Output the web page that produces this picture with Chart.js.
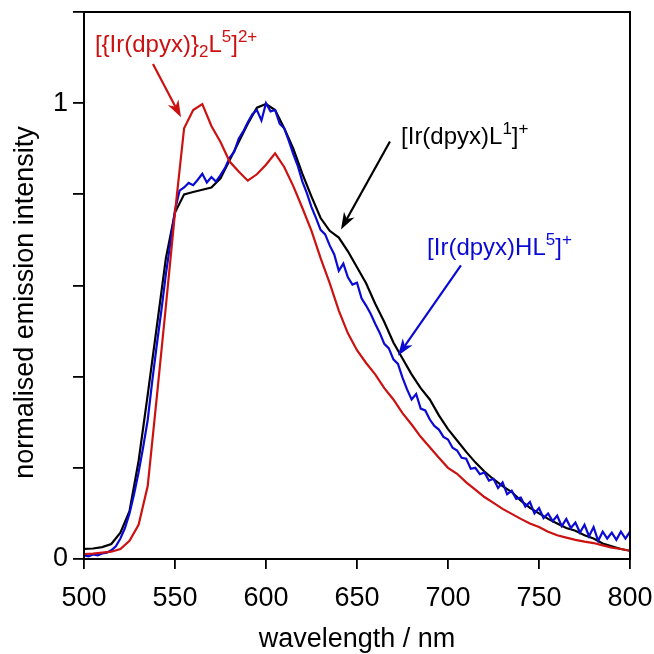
<!DOCTYPE html>
<html>
<head>
<meta charset="utf-8">
<script src="https://cdn.jsdelivr.net/npm/chart.js@4/dist/chart.umd.min.js"></script>
<style>
  html, body { margin: 0; padding: 0; background: #fff; }
  #wrap { width: 654px; height: 654px; }
</style>
</head>
<body>
<div id="wrap"><canvas id="emission"></canvas></div>
<script>
// wavelength grid (nm) for the smooth traces
const wl5 = [
  500, 505, 510, 515, 520, 525, 530, 535, 540, 545,
  550, 555, 560, 565, 570, 575, 580, 585, 590, 595,
  600, 605, 610, 615, 620, 625, 630, 635, 640, 645,
  650, 655, 660, 665, 670, 675, 680, 685, 690, 695,
  700, 705, 710, 715, 720, 725, 730, 735, 740, 745,
  750, 755, 760, 765, 770, 775, 780, 785, 790, 795,
  800
];

// [Ir(dpyx)L1]+
const black = [
  0.022, 0.023, 0.026, 0.033, 0.058, 0.105, 0.215, 0.360, 0.510, 0.660,
  0.760, 0.800, 0.805, 0.810, 0.815, 0.835, 0.875, 0.915, 0.955, 0.990,
  0.998, 0.985, 0.945, 0.900, 0.845, 0.795, 0.748, 0.720, 0.705, 0.675,
  0.640, 0.605, 0.560, 0.520, 0.475, 0.440, 0.405, 0.375, 0.350, 0.315,
  0.285, 0.260, 0.235, 0.212, 0.192, 0.175, 0.160, 0.147, 0.128, 0.112,
  0.100, 0.088, 0.078, 0.068, 0.062, 0.052, 0.045, 0.034, 0.028, 0.022,
  0.018
];

// [{Ir(dpyx)}2L5]2+
const red = [
  0.011, 0.012, 0.014, 0.016, 0.022, 0.040, 0.075, 0.160, 0.355, 0.555,
  0.760, 0.945, 0.985, 0.998, 0.950, 0.915, 0.872, 0.850, 0.830, 0.844,
  0.865, 0.890, 0.860, 0.818, 0.770, 0.720, 0.660, 0.605, 0.545, 0.495,
  0.458, 0.430, 0.405, 0.375, 0.350, 0.320, 0.295, 0.268, 0.245, 0.222,
  0.200, 0.187, 0.168, 0.152, 0.136, 0.123, 0.110, 0.099, 0.088, 0.078,
  0.070, 0.060, 0.052, 0.047, 0.042, 0.038, 0.035, 0.030, 0.025, 0.022,
  0.018
];

// finer grid for the noisy trace
const wl25 = [
  500, 502.5, 505, 507.5, 510, 512.5, 515, 517.5, 520, 522.5,
  525, 527.5, 530, 532.5, 535, 537.5, 540, 542.5, 545, 547.5,
  550, 552.5, 555, 557.5, 560, 562.5, 565, 567.5, 570, 572.5,
  575, 577.5, 580, 582.5, 585, 587.5, 590, 592.5, 595, 597.5,
  600, 602.5, 605, 607.5, 610, 612.5, 615, 617.5, 620, 622.5,
  625, 627.5, 630, 632.5, 635, 637.5, 640, 642.5, 645, 647.5,
  650, 652.5, 655, 657.5, 660, 662.5, 665, 667.5, 670, 672.5,
  675, 677.5, 680, 682.5, 685, 687.5, 690, 692.5, 695, 697.5,
  700, 702.5, 705, 707.5, 710, 712.5, 715, 717.5, 720, 722.5,
  725, 727.5, 730, 732.5, 735, 737.5, 740, 742.5, 745, 747.5,
  750, 752.5, 755, 757.5, 760, 762.5, 765, 767.5, 770, 772.5,
  775, 777.5, 780, 782.5, 785, 787.5, 790, 792.5, 795, 797.5,
  800
];

// [Ir(dpyx)HL5]+
const blue = [
  0.008, 0.006, 0.010, 0.008, 0.012, 0.014, 0.019, 0.028, 0.045, 0.068,
  0.100, 0.142, 0.190, 0.245, 0.305, 0.390, 0.470, 0.545, 0.625, 0.695,
  0.765, 0.808, 0.815, 0.825, 0.820, 0.832, 0.845, 0.826, 0.838, 0.828,
  0.842, 0.858, 0.880, 0.893, 0.922, 0.938, 0.958, 0.976, 0.985, 0.962,
  1.000, 0.982, 0.985, 0.955, 0.945, 0.918, 0.888, 0.862, 0.828, 0.802,
  0.772, 0.748, 0.722, 0.712, 0.688, 0.668, 0.632, 0.648, 0.618, 0.602,
  0.606, 0.572, 0.556, 0.538, 0.516, 0.496, 0.472, 0.462, 0.438, 0.428,
  0.398, 0.372, 0.350, 0.362, 0.330, 0.326, 0.306, 0.292, 0.284, 0.268,
  0.262, 0.244, 0.238, 0.222, 0.220, 0.198, 0.200, 0.186, 0.190, 0.172,
  0.176, 0.156, 0.168, 0.142, 0.150, 0.132, 0.135, 0.115, 0.125, 0.100,
  0.112, 0.090, 0.100, 0.083, 0.095, 0.072, 0.088, 0.068, 0.080, 0.058,
  0.075, 0.050, 0.070, 0.040, 0.060, 0.045, 0.058, 0.042, 0.060, 0.045,
  0.060
];

const xTicks = [500, 550, 600, 650, 700, 750, 800];
const yLabelled = [0, 1];

const RED = '#cc1111';
const BLUE = '#0a0ad2';
const BLACK = '#000000';
const FONT = '"Liberation Sans", Arial, sans-serif';

// annotation labels: [text parts], anchor in data coords, arrow start/tip in data coords
const labels = [
  { color: RED, x: 506, y: 1.112,
    parts: [['[{Ir(dpyx)}', 0], ['2', -1], ['L', 0], ['5', 1], [']', 0], ['2+', 1]],
    arrow: [[537.9, 1.086], [553.3, 0.969]] },
  { color: BLACK, x: 674.2, y: 0.91,
    parts: [['[Ir(dpyx)L', 0], ['1', 1], [']', 0], ['+', 1]],
    arrow: [[668.1, 0.916], [641.2, 0.723]] },
  { color: BLUE, x: 688.5, y: 0.668,
    parts: [['[Ir(dpyx)HL', 0], ['5', 1], [']', 0], ['+', 1]],
    arrow: [[707.1, 0.644], [672.5, 0.446]] }
];

function pairs(xs, ys) {
  return xs.map((x, i) => ({ x: x, y: ys[i] }));
}

function drawArrow(ctx, x0, y0, x1, y1, color) {
  const ang = Math.atan2(y1 - y0, x1 - x0);
  const headLen = 17, headW = 6, back = 12;
  ctx.save();
  ctx.strokeStyle = color;
  ctx.fillStyle = color;
  ctx.lineWidth = 2.2;
  ctx.beginPath();
  ctx.moveTo(x0, y0);
  ctx.lineTo(x1 - Math.cos(ang) * back, y1 - Math.sin(ang) * back);
  ctx.stroke();
  ctx.translate(x1, y1);
  ctx.rotate(ang);
  ctx.beginPath();
  ctx.moveTo(0, 0);
  ctx.lineTo(-headLen, -headW);
  ctx.lineTo(-back, 0);
  ctx.lineTo(-headLen, headW);
  ctx.closePath();
  ctx.fill();
  ctx.restore();
}

const decorPlugin = {
  id: 'decor',
  afterDraw(chart) {
    const ctx = chart.ctx;
    const a = chart.chartArea;
    const xs = chart.scales.x, ys = chart.scales.y;

    // frame
    ctx.save();
    ctx.strokeStyle = '#000';
    ctx.lineWidth = 2;
    ctx.strokeRect(a.left, a.top, a.right - a.left, a.bottom - a.top);
    ctx.restore();

    // annotations
    labels.forEach(l => {
      let px = xs.getPixelForValue(l.x);
      const py = ys.getPixelForValue(l.y);
      ctx.save();
      ctx.fillStyle = l.color;
      ctx.textBaseline = 'alphabetic';
      ctx.textAlign = 'left';
      l.parts.forEach(([t, lvl]) => {
        if (lvl === 0) {
          ctx.font = '24px ' + FONT;
          ctx.fillText(t, px, py);
        } else {
          ctx.font = '17px ' + FONT;
          ctx.fillText(t, px, lvl > 0 ? py - 10 : py + 5);
        }
        px += ctx.measureText(t).width;
      });
      ctx.restore();
      const [s, e] = l.arrow;
      drawArrow(ctx, xs.getPixelForValue(s[0]), ys.getPixelForValue(s[1]),
                xs.getPixelForValue(e[0]), ys.getPixelForValue(e[1]), l.color);
    });

    // axis titles
    ctx.save();
    ctx.fillStyle = '#000';
    ctx.font = '27px ' + FONT;
    ctx.textAlign = 'center';
    ctx.textBaseline = 'alphabetic';
    ctx.fillText('wavelength / nm', (a.left + a.right) / 2, a.bottom + 88);
    ctx.translate(33, (a.top + a.bottom) / 2 + 17);
    ctx.rotate(-Math.PI / 2);
    ctx.fillText('normalised emission intensity', 0, 0);
    ctx.restore();
  }
};

const tickFont = { family: FONT, size: 27 };

new Chart(document.getElementById('emission'), {
  type: 'line',
  data: {
    datasets: [
      { label: '[{Ir(dpyx)}2L5]2+', data: pairs(wl5, red), borderColor: RED, order: 0 },
      { label: '[Ir(dpyx)HL5]+', data: pairs(wl25, blue), borderColor: BLUE, order: 1 },
      { label: '[Ir(dpyx)L1]+', data: pairs(wl5, black), borderColor: BLACK, order: 2 }
    ]
  },
  options: {
    responsive: true,
    maintainAspectRatio: false,
    animation: false,
    layout: { padding: { top: 12, right: 24, left: 0, bottom: 0 } },
    elements: {
      line: { borderWidth: 2.2, tension: 0, fill: false },
      point: { radius: 0 }
    },
    plugins: {
      legend: { display: false },
      tooltip: { enabled: false }
    },
    scales: {
      x: {
        type: 'linear',
        min: 500,
        max: 800,
        afterBuildTicks: s => { s.ticks = xTicks.map(v => ({ value: v })); },
        afterFit: s => { s.height = 95; s.paddingLeft = 0; s.paddingRight = 0; },
        grid: { drawOnChartArea: false, drawTicks: true, tickLength: 10, color: '#000', lineWidth: 1.8 },
        border: { display: false },
        ticks: { font: tickFont, color: '#000', padding: 13, maxRotation: 0 }
      },
      y: {
        min: 0,
        max: 1.2,
        afterFit: s => { s.width = 84; s.paddingTop = 0; s.paddingBottom = 0; },
        grid: { drawOnChartArea: false, drawTicks: true, tickLength: 11, color: '#000', lineWidth: 1.8 },
        border: { display: false },
        ticks: {
          stepSize: 0.2,
          font: tickFont,
          color: '#000',
          padding: 5,
          callback: v => yLabelled.find(k => Math.abs(k - v) < 1e-6) !== undefined ? String(Math.round(v)) : ''
        }
      }
    }
  },
  plugins: [decorPlugin]
});
</script>
</body>
</html>
